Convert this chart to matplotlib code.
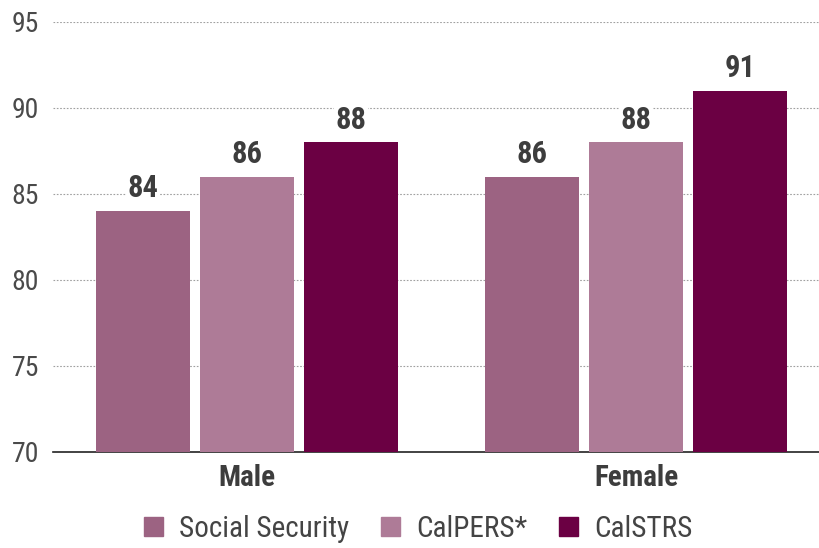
import numpy as np
import matplotlib
matplotlib.use("Agg")
import matplotlib.pyplot as plt
from matplotlib.patches import Patch

plt.rcParams['font.family'] = ['Roboto Condensed', 'DejaVu Sans']

groups = ["Male", "Female"]
series = ["Social Security", "CalPERS*", "CalSTRS"]
values = [
    [84, 86],   # Social Security
    [86, 88],   # CalPERS*
    [88, 91],   # CalSTRS
]
colors = ["#9c6382", "#ae7b97", "#6b0043"]
yticks = [70, 75, 80, 85, 90, 95]

fig = plt.figure(figsize=(8.2, 5.48), dpi=100)
ax = fig.add_axes([0.0646, 0.1752, 0.9354, 0.7847])

x = np.arange(len(groups))
width = 0.2416
step = 0.2674
for i, (name, vals, col) in enumerate(zip(series, values, colors)):
    pos = x + (i - 1) * step
    ax.bar(pos, np.array(vals) - 70, width, bottom=70, color=col, zorder=3)
    for p, v in zip(pos, vals):
        ax.text(p, v + 0.45, str(v), ha='center', va='bottom', fontsize=22,
                fontweight=600, color='#3d3d3d', zorder=4,
                bbox=dict(facecolor='white', edgecolor='none', pad=1))

ax.set_ylim(70, 95)
ax.set_xlim(-0.499, 0.473 + 1)
ax.set_yticks(yticks)
ax.set_yticklabels([str(t) for t in yticks], fontsize=20, color='#4a4a4a')
ax.set_xticks(x)
ax.set_xticklabels(groups, fontsize=21, fontweight=600, color='#3d3d3d')
ax.tick_params(axis='both', length=0)
ax.tick_params(axis='y', pad=10)
ax.tick_params(axis='x', pad=9)

for t in yticks[1:]:
    ax.axhline(t, color='#a0a0a0', linestyle=(0, (1.5, 1.5)), linewidth=0.8, zorder=1)

for s in ['top', 'right', 'left']:
    ax.spines[s].set_visible(False)
ax.spines['bottom'].set_color('#222222')
ax.spines['bottom'].set_linewidth(1.2)
ax.spines['bottom'].set_zorder(2)

handles = [Patch(color=c, label=s) for s, c in zip(series, colors)]
fig.legend(handles=handles, loc='center', bbox_to_anchor=(0.51, 0.035), ncol=3,
           frameon=False, fontsize=21, handlelength=0.65, handleheight=0.65,
           columnspacing=1.1, handletextpad=0.55, labelcolor='#444444')

fig.savefig("out.png", dpi=100)
